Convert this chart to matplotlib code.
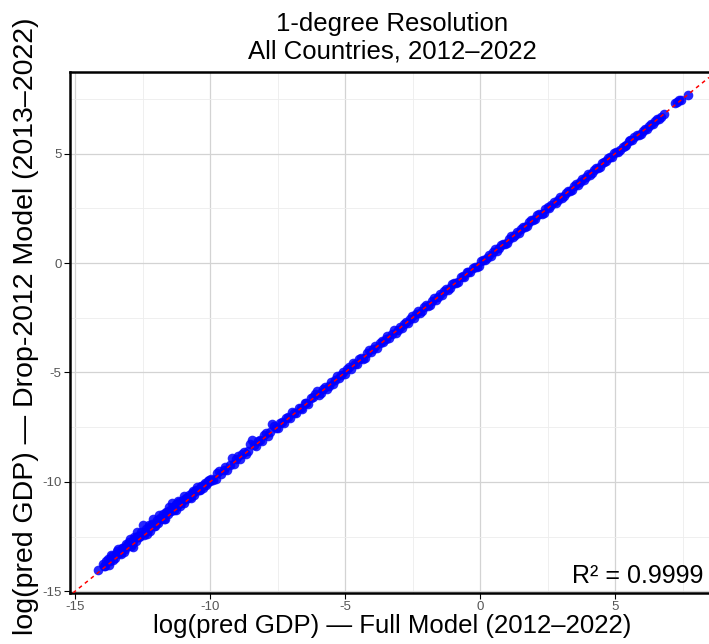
import numpy as np
import matplotlib
matplotlib.use("Agg")
import matplotlib.pyplot as plt

plt.rcParams['font.family'] = ['Liberation Sans', 'DejaVu Sans']
plt.rcParams['axes.unicode_minus'] = False

# log(pred GDP), full model, lower tail (wider scatter)
full_low = [-14.15, -13.95, -13.88, -13.8, -13.72, -13.66, -13.58, -13.5, -13.42, -13.35,
            -13.28, -13.2, -13.12, -13.05, -12.98, -12.9, -12.84, -12.78, -12.7, -12.62,
            -12.55, -12.5, -12.42, -12.35, -12.28, -12.2, -12.12, -12.05, -11.98, -11.9,
            -11.82, -11.75, -11.68, -11.6, -11.52, -11.45, -11.4, -11.32, -11.25, -11.18,
            -11.1, -11.02, -10.95, -10.88, -10.8, -10.72, -10.65, -10.58, -10.5, -10.42,
            -10.35, -10.28, -10.2, -10.12, -10.05,
            -13.92, -13.84, -13.76, -13.69, -13.62, -13.54, -13.46, -13.38, -13.31, -13.24,
            -13.16, -13.08, -13.01, -12.94, -12.87, -12.81, -12.74, -12.66, -12.58, -12.46,
            -12.38, -12.31, -12.24, -12.16, -12.08, -12.01, -11.94, -11.86, -11.78, -11.71,
            -11.64, -11.56, -11.48, -11.36, -11.28, -11.21, -11.14, -11.06, -10.98, -10.91,
            -10.84, -10.76, -10.68, -10.61, -10.54, -10.46, -10.38, -10.31, -10.24, -10.16,
            -10.08, -10.02]
# drop-2012 minus full model, same cells
diff_low = [0.13, 0.18, 0.05, 0.28, 0.12, 0.32, 0.02, 0.22, 0.35, 0.1,
            0.25, -0.02, 0.3, 0.15, 0.38, 0.05, -0.12, 0.22, 0.42, 0.08,
            0.28, 0.55, 0.15, -0.05, 0.32, 0.18, 0.4, 0.02, 0.25, 0.38,
            0.1, 0.3, -0.04, 0.2, 0.35, 0.12, 0.45, 0.05, 0.22, 0.29,
            0.0, 0.18, 0.3, 0.08, 0.22, -0.03, 0.25, 0.12, 0.28, 0.05,
            0.18, -0.02, 0.15, 0.08, 0.12,
            0.08, 0.2, -0.02, 0.15, 0.22, 0.08, 0.3, 0.12, 0.02, 0.2,
            0.1, 0.18, 0.25, 0.0, 0.15, 0.3, 0.05, 0.2, 0.12, 0.05,
            0.22, 0.1, 0.0, 0.25, 0.08, 0.15, 0.05, 0.22, 0.15, 0.0,
            0.25, 0.1, 0.18, 0.2, -0.02, 0.12, 0.2, 0.1, 0.02, 0.18,
            0.12, 0.05, 0.15, 0.02, 0.18, 0.1, 0.0, 0.12, 0.08, 0.02,
            0.1, 0.05]

full_mid = [-9.95, -9.8, -9.66, -9.5, -9.36, -9.2, -9.05, -8.9, -8.76, -8.6,
            -8.45, -8.3, -8.16, -8.0, -7.85, -7.7, -7.56, -7.4, -7.25, -7.1,
            -6.96, -6.8, -6.65, -6.5, -6.36, -6.2, -6.05, -5.9, -5.76, -5.6,
            -5.45, -5.3, -5.16, -5.0, -4.85, -4.7, -4.56, -4.4, -4.25, -4.1,
            -3.96, -3.8, -3.65, -3.5, -3.36, -3.2, -3.05, -2.9, -2.76, -2.6,
            -2.45, -2.3, -2.16, -2.0, -1.85, -1.7, -1.56, -1.4, -1.25, -1.1,
            -0.96, -0.8, -0.65, -0.5, -0.36, -0.2, -0.05, 0.1, 0.24, 0.4,
            0.55, 0.7, 0.84, 1.0, 1.15, 1.3, 1.44, 1.6, 1.75, 1.9,
            2.04, 2.2, 2.35, 2.5, 2.64, 2.8, 2.95, 3.1, 3.24, 3.4,
            3.55, 3.7, 3.84, 4.0, 4.15, 4.3, 4.44, 4.6, 4.75, 4.9,
            5.04, 5.2, 5.35, 5.5, 5.64, 5.8, 5.95, 6.1, 6.24, 6.4,
            6.55, 6.7, 6.8,
            -9.88, -9.73, -9.58, -9.43, -9.28, -9.12, -8.98, -8.83, -8.68, -8.52,
            -8.38, -8.23, -8.08, -7.92, -7.78, -7.63, -7.48, -7.33, -7.18, -7.03,
            -6.88, -6.72, -6.58, -6.43, -6.28, -6.12, -5.98, -5.83, -5.68, -5.52,
            -5.38, -5.23, -5.08, -4.92, -4.78, -4.63, -4.48, -4.33, -4.18, -4.03,
            -3.88, -3.72, -3.58, -3.43, -3.28, -3.12, -2.98, -2.83, -2.68, -2.52,
            -2.38, -2.23, -2.08, -1.92, -1.78, -1.63, -1.48, -1.33, -1.18, -1.03,
            -0.88, -0.72, -0.58, -0.43, -0.28, -0.12, 0.02, 0.17, 0.32, 0.48,
            0.62, 0.77, 0.92, 1.08, 1.22, 1.37, 1.52, 1.68, 1.82, 1.97,
            2.12, 2.28, 2.42, 2.57, 2.72, 2.88, 3.02, 3.17, 3.32, 3.48,
            3.62, 3.77, 3.92, 4.08, 4.22, 4.37, 4.52, 4.68, 4.82, 4.97,
            5.12, 5.28, 5.42, 5.57, 5.72, 5.88, 6.02, 6.17, 6.32, 6.48,
            6.62]
diff_mid = [0.08, -0.06, 0.15, 0.02, -0.08, 0.3, 0.1, -0.05, 0.12, 0.0,
            0.36, -0.07, 0.05, 0.12, -0.06, 0.33, 0.02, 0.1, -0.08, 0.06,
            0.13, -0.05, 0.04, 0.12, -0.08, 0.06, 0.21, -0.04, 0.1, 0.0,
            -0.08, 0.12, 0.03, -0.06, 0.1, 0.14, -0.04, 0.06, -0.09, 0.11,
            0.02, -0.07, 0.1, 0.04, -0.06, 0.12, 0.0, -0.08, 0.08, 0.03,
            -0.06, 0.1, -0.02, 0.07, -0.07, 0.09, 0.01, -0.06, 0.08, -0.03,
            0.06, -0.07, 0.04, 0.09, -0.05, 0.03, -0.08, 0.06, 0.0, -0.06,
            0.07, -0.03, 0.05, -0.07, 0.08, 0.0, -0.05, 0.06, -0.04, 0.07,
            -0.02, 0.05, -0.06, 0.07, 0.01, -0.05, 0.06, -0.03, 0.05, -0.06,
            0.04, 0.0, -0.05, 0.06, -0.02, 0.05, -0.06, 0.03, 0.06, -0.04,
            0.05, -0.05, 0.02, 0.06, -0.04, 0.03, -0.05, 0.04, 0.0, -0.03,
            0.03, -0.02, 0.02,
            -0.05, 0.12, -0.04, 0.1, 0.05, -0.06, 0.18, 0.08, -0.07, 0.25,
            0.06, 0.1, -0.05, 0.15, 0.08, 0.2, -0.06, 0.05, 0.12, -0.04,
            0.02, 0.1, -0.07, 0.05, 0.12, 0.15, -0.03, 0.09, -0.06, 0.08,
            0.05, -0.04, 0.1, 0.06, -0.05, 0.03, 0.11, -0.06, 0.07, -0.04,
            0.08, 0.05, -0.05, 0.09, 0.04, -0.06, 0.07, 0.05, -0.04, 0.08,
            0.03, -0.06, 0.07, -0.03, 0.06, -0.05, 0.07, 0.03, -0.06, 0.05,
            -0.04, 0.06, -0.05, 0.02, 0.07, -0.04, 0.05, -0.03, 0.06, 0.02,
            -0.05, 0.06, -0.04, 0.04, -0.03, 0.06, 0.03, -0.05, 0.05, -0.02,
            0.06, -0.04, 0.04, -0.05, 0.05, 0.02, -0.04, 0.05, -0.02, 0.04,
            -0.04, 0.05, 0.03, -0.04, 0.05, -0.03, 0.04, -0.04, 0.03, 0.05,
            -0.03, 0.04, -0.03, 0.03, 0.04, -0.02, 0.03, -0.03, 0.02, 0.03,
            -0.02]

full_top = [7.22, 7.3, 7.38, 7.45, 7.69]
diff_top = [0.1, 0.08, 0.05, 0.02, 0.01]

x_ticks = [-15, -10, -5, 0, 5]
y_ticks = [-15, -10, -5, 0, 5]
r2_text = "R² = 0.9999"

full = np.array(full_low + full_mid + full_top)
drop = full + np.array(diff_low + diff_mid + diff_top)

W, H = 709, 644
fig = plt.figure(figsize=(W / 100, H / 100), dpi=100)
ax = fig.add_axes([70 / W, 51 / H, 639 / W, 521 / H])

ax.scatter(full, drop, s=48, color='#0000ff', alpha=0.85, linewidths=0, zorder=3)
ax.axline((0, 0), slope=1, color='red', lw=1.1, linestyle=(0, (2.5, 2.5)), zorder=4)

ax.set_xlim(-15.19, 8.48)
ax.set_ylim(-15.08, 8.73)
ax.set_xticks(x_ticks)
ax.set_yticks(y_ticks)
ax.set_xticks([-12.5, -7.5, -2.5, 2.5, 7.5], minor=True)
ax.set_yticks([-12.5, -7.5, -2.5, 2.5, 7.5], minor=True)
ax.grid(which='major', color='#d3d3d3', lw=0.9, zorder=0)
ax.grid(which='minor', color='#ededed', lw=0.6, zorder=0)
ax.set_axisbelow(True)
ax.tick_params(which='major', length=4, width=0.8, color='black',
               labelsize=9.5, labelcolor='#555555', pad=2)
ax.tick_params(which='minor', length=0)

for side in ['left', 'top', 'bottom']:
    ax.spines[side].set_linewidth(1.8)
    ax.spines[side].set_color('black')
ax.spines['right'].set_visible(False)

fig.text(392 / W, 1 - 31 / H, "1-degree Resolution", ha='center', va='baseline', fontsize=18.5)
fig.text(392 / W, 1 - 58 / H, "All Countries, 2012–2022", ha='center', va='baseline', fontsize=18.5)
fig.text(392 / W, 1 - 633 / H, "log(pred GDP) — Full Model (2012–2022)",
         ha='center', va='baseline', fontsize=18.5)
fig.text(33 / W, 1 - 326 / H, "log(pred GDP) — Drop-2012 Model (2013–2022)",
         ha='center', va='baseline', rotation=90, rotation_mode='anchor', fontsize=20.5)
fig.text(703 / W, 1 - 583 / H, r2_text, ha='right', va='baseline', fontsize=18)

fig.savefig('out.png', dpi=100)
